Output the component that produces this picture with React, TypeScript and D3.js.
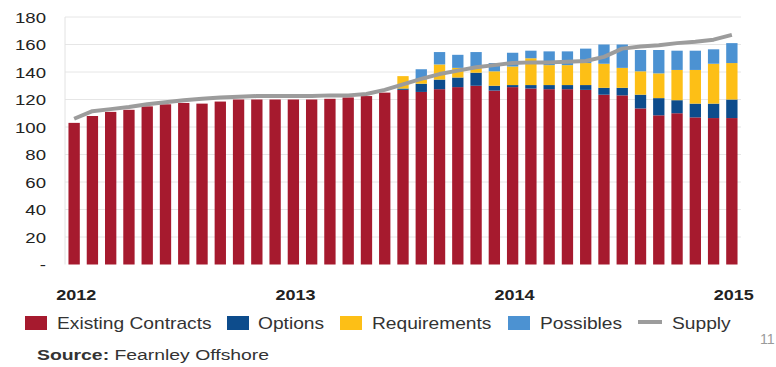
import React from "react";
import * as d3 from "d3";

// Monthly vessel counts, Jan 2012 – Jan 2015
const existingContracts = [
  103, 108, 111, 112.5, 115, 116.5, 117.5, 117, 118.5, 120, 120, 120, 120,
  120, 120.5, 121.5, 122.5, 125, 127, 125.5, 127.5, 129, 130, 126.5, 129, 128,
  127.5, 127.5, 127, 123.5, 123, 113.5, 108.5, 110, 107, 106.5, 106.5,
];
const options = [
  0, 0, 0, 0, 0, 0, 0, 0, 0, 0, 0, 0, 0, 0, 0, 0, 0, 0, 1, 6, 7, 7, 9.5, 3.5,
  1.5, 2.5, 3, 3, 3.5, 5, 5.5, 10, 12.5, 9.5, 10, 10.5, 13.5,
];
const requirements = [
  0, 0, 0, 0, 0, 0, 0, 0, 0, 0, 0, 0, 0, 0, 0, 0, 0, 0, 9, 3, 11, 7, 4, 10.5,
  13.5, 19.5, 14.5, 14.5, 16, 17.5, 14.5, 17, 18, 22, 24.5, 29, 26.5,
];
const possibles = [
  0, 0, 0, 0, 0, 0, 0, 0, 0, 0, 0, 0, 0, 0, 0, 0, 0, 0, 0, 7.5, 9, 9.5, 11, 6,
  10, 5.5, 10, 10, 10.5, 14, 17, 15.5, 17, 14, 14, 10.5, 14.5,
];
const supply = [
  106, 111.5, 113, 114.5, 116.5, 118, 119.5, 120.5, 121.5, 122, 122.5, 122.5,
  122.5, 122.5, 123, 123, 124, 127, 131, 135, 138.5, 141, 143.5, 145, 146.5,
  147, 147, 147.5, 148, 151, 157, 158.5, 159.5, 161, 162, 163.5, 167,
];

const months = d3.timeMonths(new Date(2012, 0, 1), new Date(2015, 0, 2));
const yTicks = [0, 20, 40, 60, 80, 100, 120, 140, 160, 180];

const seriesKeys = ["Existing Contracts", "Options", "Requirements", "Possibles"];
const seriesColors = ["#A61A2E", "#0D4C8C", "#FDBF16", "#4C92D2"];
const supplyLabel = "Supply";
const supplyColor = "#9C9C9C";

const W = 776;
const H = 367;
const FONT = "'Liberation Sans', Arial, sans-serif";
const SX = 1.2; // horizontal text stretch

function SText({ x, y, anchor = "start", sx = SX, children, ...rest }: any) {
  return (
    <text
      transform={`translate(${x},${y}) scale(${sx},1)`}
      textAnchor={anchor}
      fontFamily={FONT}
      {...rest}
    >
      {children}
    </text>
  );
}

export default function App() {
  const plotLeft = 65;
  const plotRight = 741;
  const plotTop = 17;
  const plotBottom = 264.5;

  const x = d3
    .scaleBand<number>()
    .domain(months.map((_, i) => i))
    .range([plotLeft, plotRight])
    .paddingInner(0.38)
    .paddingOuter(0.19);
  const y = d3.scaleLinear().domain([0, 180]).range([plotBottom, plotTop]);

  const rows = months.map((m, i) => ({
    i,
    "Existing Contracts": existingContracts[i],
    Options: options[i],
    Requirements: requirements[i],
    Possibles: possibles[i],
  }));
  const stacked = d3.stack<any>().keys(seriesKeys)(rows);

  const cx = (i: number) => (x(i) as number) + x.bandwidth() / 2;
  const line = d3
    .line<number>()
    .x((_, i) => cx(i))
    .y((d) => y(d));

  const legendItems = [
    { label: seriesKeys[0], color: seriesColors[0], sx: 25, tx: 57 },
    { label: seriesKeys[1], color: seriesColors[1], sx: 227, tx: 258 },
    { label: seriesKeys[2], color: seriesColors[2], sx: 340, tx: 372 },
    { label: seriesKeys[3], color: seriesColors[3], sx: 508, tx: 540 },
  ];

  return (
    <svg
      width={W}
      height={H}
      style={{ position: "absolute", left: 0, top: 0, background: "#fff" }}
    >
      {/* gridlines */}
      {yTicks
        .filter((t) => t > 0)
        .map((t) => (
          <line
            key={t}
            x1={plotLeft}
            x2={plotRight}
            y1={y(t)}
            y2={y(t)}
            stroke="#e6e6e6"
            strokeWidth={1}
          />
        ))}
      <line
        x1={plotLeft}
        x2={plotLeft}
        y1={plotTop}
        y2={plotBottom}
        stroke="#e2e2e2"
        strokeWidth={1}
      />

      {/* y tick labels */}
      {yTicks.map((t) => (
        <SText
          key={t}
          x={46}
          y={y(t) + 5.5}
          anchor="end"
          fontSize={15.5}
          fill="#222"
        >
          {t === 0 ? "-" : t}
        </SText>
      ))}

      {/* stacked bars */}
      {stacked.map((layer, k) => (
        <g key={layer.key} fill={seriesColors[k]}>
          {layer.map((d, i) =>
            d[1] - d[0] > 0 ? (
              <rect
                key={i}
                x={x(i)}
                width={x.bandwidth()}
                y={y(d[1])}
                height={y(d[0]) - y(d[1])}
              />
            ) : null
          )}
        </g>
      ))}

      {/* supply line */}
      <path
        d={line(supply) || ""}
        fill="none"
        stroke={supplyColor}
        strokeWidth={4}
        strokeLinejoin="round"
      />

      {/* year labels */}
      {months.map((m, i) =>
        m.getMonth() === 0 ? (
          <SText
            key={i}
            x={cx(i) + 2}
            y={300}
            anchor="middle"
            fontSize={15}
            fontWeight="bold"
            fill="#222"
          >
            {d3.timeFormat("%Y")(m)}
          </SText>
        ) : null
      )}

      {/* legend */}
      {legendItems.map((it) => (
        <g key={it.label}>
          <rect x={it.sx} y={316} width={22} height={14} fill={it.color} />
          <SText x={it.tx} y={329} fontSize={16} fill="#333">
            {it.label}
          </SText>
        </g>
      ))}
      <line x1={638} x2={662} y1={322} y2={322} stroke={supplyColor} strokeWidth={4} />
      <SText x={672} y={329} fontSize={16} fill="#333">
        {supplyLabel}
      </SText>

      <SText x={760} y={344} sx={0.95} fontSize={15} fill="#9a9a9a">
        11
      </SText>

      <SText x={37} y={360} sx={1.25} fontSize={15.5} fill="#333">
        <tspan fontWeight="bold">Source:</tspan>
        <tspan> Fearnley Offshore</tspan>
      </SText>
    </svg>
  );
}
